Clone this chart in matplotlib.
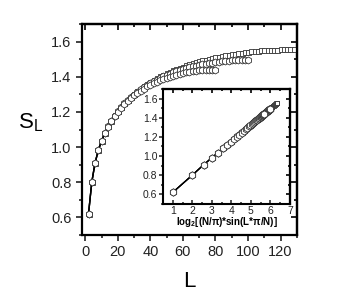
import numpy as np
import matplotlib
matplotlib.use("Agg")
import matplotlib.pyplot as plt
from matplotlib.ticker import MultipleLocator

plt.rcParams['font.family'] = ['Liberation Sans', 'DejaVu Sans']

# block sizes L (even values) and entropies S_L
L_256 = np.arange(2, 129, 2)
S_256 = [0.620, 0.800, 0.909, 0.981, 1.036, 1.081, 1.119, 1.151, 1.180, 1.206,
         1.229, 1.250, 1.269, 1.287, 1.303, 1.319, 1.333, 1.346, 1.359, 1.370,
         1.381, 1.392, 1.402, 1.411, 1.420, 1.428, 1.437, 1.444, 1.451, 1.458,
         1.465, 1.471, 1.477, 1.483, 1.488, 1.493, 1.498, 1.503, 1.507, 1.511,
         1.515, 1.519, 1.522, 1.526, 1.529, 1.532, 1.535, 1.537, 1.540, 1.542,
         1.544, 1.546, 1.548, 1.550, 1.551, 1.553, 1.554, 1.554, 1.555, 1.556,
         1.556, 1.557, 1.557, 1.557]

L_200 = np.arange(2, 101, 2)
S_200 = [0.620, 0.800, 0.909, 0.981, 1.036, 1.080, 1.118, 1.150, 1.179, 1.204,
         1.227, 1.248, 1.266, 1.284, 1.299, 1.315, 1.328, 1.341, 1.353, 1.363,
         1.374, 1.384, 1.393, 1.402, 1.410, 1.417, 1.425, 1.431, 1.437, 1.443,
         1.449, 1.454, 1.459, 1.463, 1.467, 1.471, 1.474, 1.478, 1.481, 1.483,
         1.485, 1.488, 1.489, 1.491, 1.493, 1.494, 1.495, 1.495, 1.496, 1.496]

L_160 = np.arange(2, 81, 2)
S_160 = [0.620, 0.800, 0.909, 0.981, 1.035, 1.080, 1.117, 1.148, 1.177, 1.202,
         1.224, 1.244, 1.262, 1.279, 1.294, 1.309, 1.321, 1.333, 1.345, 1.354,
         1.363, 1.372, 1.381, 1.388, 1.395, 1.400, 1.407, 1.412, 1.416, 1.420,
         1.425, 1.428, 1.431, 1.434, 1.436, 1.437, 1.439, 1.440, 1.440, 1.440]

series = [(256, L_256, S_256, 's'), (200, L_200, S_200, 'h'), (160, L_160, S_160, 'h')]


def chord(L, N):
    # inset abscissa: log2[(N/pi)*sin(L*pi/N)]
    return np.log2(N / np.pi * np.sin(L * np.pi / N))


def mirror_ticks(ax, xmin, ymin, size):
    top = ax.secondary_xaxis('top')
    top.xaxis.set_major_locator(MultipleLocator(xmin * 2))
    top.xaxis.set_minor_locator(MultipleLocator(xmin))
    top.tick_params(which='both', direction='in', labeltop=False, width=1.2)
    top.tick_params(which='major', length=size)
    top.tick_params(which='minor', length=size * 0.5)
    top.spines['top'].set_linewidth(1.6)
    right = ax.secondary_yaxis('right')
    right.yaxis.set_major_locator(MultipleLocator(ymin * 2))
    right.yaxis.set_minor_locator(MultipleLocator(ymin))
    right.tick_params(which='both', direction='in', labelright=False, width=1.2)
    right.tick_params(which='major', length=size)
    right.tick_params(which='minor', length=size * 0.5)
    right.spines['right'].set_linewidth(1.6)


fig = plt.figure(figsize=(3.46, 3.08), dpi=100)

ax = fig.add_axes([0.237, 0.237, 0.621, 0.685])
for N, L, S, m in series:
    ax.plot(L, S, '-', color='black', lw=1.0, marker=m, ms=5.0 if m == 'h' else 3.6,
            mfc='white', mec='#333333', mew=0.6)
ax.set_xlim(-2, 130)
ax.set_ylim(0.5, 1.7)
ax.xaxis.set_major_locator(MultipleLocator(20))
ax.xaxis.set_minor_locator(MultipleLocator(10))
ax.yaxis.set_major_locator(MultipleLocator(0.2))
ax.yaxis.set_minor_locator(MultipleLocator(0.1))
ax.tick_params(which='both', direction='out', width=1.2, labelsize=10.5, colors='#222222')
ax.tick_params(which='major', length=4)
ax.tick_params(which='minor', length=2)
for sp in ax.spines.values():
    sp.set_linewidth(1.6)
mirror_ticks(ax, 10, 0.1, 4)
ax.set_xlabel('L', fontsize=16, labelpad=8)
ax.set_ylabel('S$_{\\mathregular{L}}$', fontsize=16, rotation=0)
ax.yaxis.set_label_coords(-0.24, 0.48)

ins = fig.add_axes([0.471, 0.338, 0.367, 0.373])
for N, L, S, m in series:
    ins.plot(chord(L, N), S, '-', color='black', lw=0.9, marker=m,
             ms=5.2 if m == 'h' else 3.4, mfc='white', mec='#333333', mew=0.6)
ins.set_xlim(0.5, 7)
ins.set_ylim(0.5, 1.7)
ins.xaxis.set_major_locator(MultipleLocator(1))
ins.xaxis.set_minor_locator(MultipleLocator(0.5))
ins.yaxis.set_major_locator(MultipleLocator(0.2))
ins.yaxis.set_minor_locator(MultipleLocator(0.1))
ins.tick_params(axis='y', which='both', direction='out', width=1.1, labelsize=7.5, pad=1, colors='#222222')
ins.tick_params(axis='x', which='both', direction='in', width=1.1, labelsize=7.5, pad=1.5, colors='#222222')
ins.tick_params(which='major', length=3)
ins.tick_params(which='minor', length=1.5)
for sp in ins.spines.values():
    sp.set_linewidth(1.5)
mirror_ticks(ins, 0.5, 0.1, 3)
ins.set_xlabel('log$_{\\mathregular{2}}$[(N/\u03c0)*sin(L*\u03c0/N)]', fontsize=7,
               fontweight='bold', labelpad=-1)

fig.savefig('out.png', dpi=100)
